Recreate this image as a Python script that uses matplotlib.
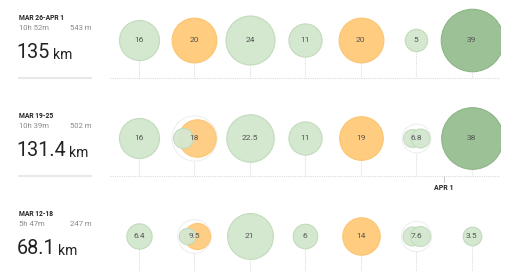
import matplotlib
matplotlib.use("Agg")
import matplotlib.pyplot as plt
from matplotlib.transforms import offset_copy
import numpy as np

plt.rcParams["font.family"] = ["Roboto", "DejaVu Sans"]

# weekly summary, newest week first
week_labels = ["MAR 26-APR 1", "MAR 19-25", "MAR 12-18"]
week_times = ["10h 52m", "10h 39m", "5h 47m"]
week_elev = ["543 m", "502 m", "247 m"]
week_km = ["135", "131.4", "68.1"]

# km per day (7 days per week)
day_totals = [
    [16, 20, 24, 11, 20, 5, 39],
    [16, 18, 22.5, 11, 19, 6.8, 38],
    [6.4, 9.5, 21, 6, 14, 7.6, 3.5],
]
# activity kinds per day ("g" easy, "o" orange, "d" long)
day_kinds = [
    [["g"], ["o"], ["g"], ["g"], ["o"], ["g"], ["d"]],
    [["g"], ["g", "o"], ["g"], ["g"], ["o"], ["g", "g"], ["d"]],
    [["g"], ["g", "o"], ["g"], ["g"], ["o"], ["g", "g"], ["g"]],
]
# km per activity when a day has several
day_parts = [
    [[16], [20], [24], [11], [20], [5], [39]],
    [[16], [4, 14], [22.5], [11], [19], [3.2, 3.6], [38]],
    [[6.4], [2.7, 6.8], [21], [6], [14], [3.6, 4.0], [3.5]],
]
month_marks = ["", "APR 1", ""]

fill = {"g": "#d4e7cf", "o": "#ffcc80", "d": "#9dc196"}
edge = {"g": "#c2dbbb", "o": "#fcc46f", "d": "#8db586"}

W, H = 520, 272
k_pt = 3.6  # radius in points per sqrt(km)

fig = plt.figure(figsize=(W / 100, H / 100), dpi=100)

ax_left = fig.add_axes([0, 0, 1, 1])
ax_left.set_xlim(0, W)
ax_left.set_ylim(H, 0)
ax_left.axis("off")

row_h = 98
for r in range(3):
    y0 = r * row_h
    ax_left.text(19, y0 + 19.5, week_labels[r], fontsize=4.9, fontweight="bold",
                 color="#222222", va="baseline")
    ax_left.text(19, y0 + 30, week_times[r], fontsize=5.5, color="#888888", va="baseline")
    ax_left.text(92, y0 + 30, week_elev[r], fontsize=5.5, color="#888888", va="baseline",
                 ha="right")
    num = ax_left.text(16.5, y0 + 58.5, week_km[r], fontsize=14.2, color="#222222",
                       va="baseline")
    ax_left.annotate("km", xy=(1, 0), xycoords=num, xytext=(2.2, 0.5),
                     textcoords="offset points", fontsize=10, color="#222222",
                     va="bottom")
    ax_left.plot([18, 92], [y0 + 78, y0 + 78], color="#e8e8e8", lw=1.5,
                 solid_capstyle="butt")

    ax = fig.add_axes([110 / W, 1 - (y0 + row_h) / H, 390 / W, row_h / H])
    ax.set_xlim(-0.52, 6.51)
    ax.set_ylim(-58, 40)
    ax.axis("off")
    ax.axhline(-38, color="#dcdcdc", lw=0.8, ls=(0, (1, 1)), zorder=1)

    days = np.arange(7)
    totals = day_totals[r]
    for d in days:
        t = totals[d]
        ax.plot([d, d], [0, -38], color="#dcdcdc", lw=0.8, ls=(0, (1, 1)), zorder=1)
        parts = day_parts[r][d]
        kinds = day_kinds[r][d]
        if len(parts) == 1:
            ax.scatter([d], [0], s=(2 * k_pt) ** 2 * t, color=fill[kinds[0]],
                       edgecolors=edge[kinds[0]], linewidths=0.8, zorder=3)
        else:
            R = k_pt * np.sqrt(t)
            ax.scatter([d], [0], s=(2 * R + 2) ** 2, facecolors="white",
                       edgecolors="#ededed", linewidths=0.7, zorder=2)
            sides = [-1, 1]
            for p, kd, sd in zip(parts, kinds, sides):
                rp = k_pt * np.sqrt(p)
                tr = offset_copy(ax.transData, fig=fig, x=sd * (R - rp), y=0,
                                 units="points")
                z = 4 if kd == "g" and sd == -1 and kinds[1] == "o" else 3
                ax.scatter([d], [0], s=(2 * rp) ** 2, color=fill[kd],
                           edgecolors=edge[kd], linewidths=0.8, zorder=z,
                           transform=tr, alpha=0.95)
        ax.text(d, 0, f"{t:g}", fontsize=6, color="#555555", ha="center",
                va="center", zorder=6)

    if month_marks[r]:
        ax.plot([5.5, 5.5], [-38, -44], color="#cccccc", lw=0.8, zorder=1)
        ax.text(5.5, -50, month_marks[r], fontsize=5, fontweight="bold",
                color="#222222", ha="center", va="center")

fig.savefig("out.png", dpi=100)
